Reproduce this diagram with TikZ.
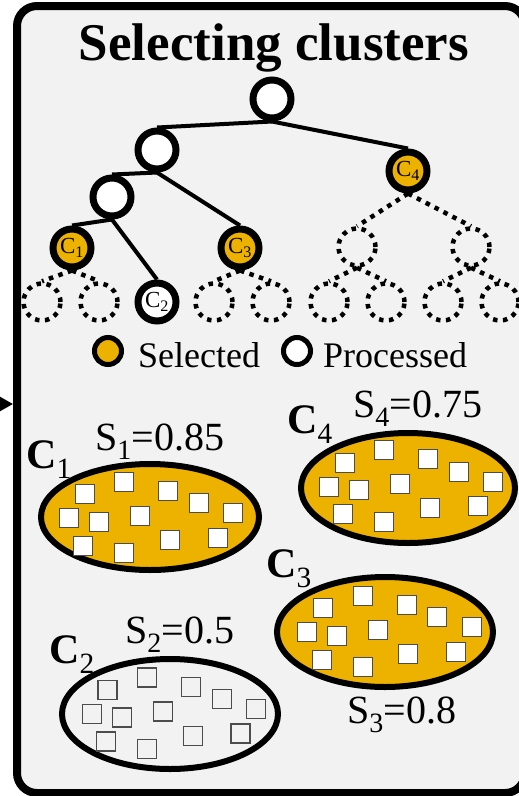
\documentclass[tikz,border=0pt]{standalone}
\usepackage{fontspec}
\setmainfont{Liberation Serif}
\usetikzlibrary{arrows.meta,shapes.geometric}
\definecolor{selc}{HTML}{EDB100}
\definecolor{bgc}{HTML}{F2F2F2}
\tikzset{
  treenode/.style={circle, draw=black, line width=7pt, minimum size=38pt, inner sep=0pt, font=\fontsize{23}{23}\selectfont},
  selnode/.style={treenode, fill=selc},
  procnode/.style={treenode, fill=white},
  dotnode/.style={circle, draw=black, line width=4.5pt, dash pattern=on 4.5pt off 5.5pt, minimum size=37pt, inner sep=0pt},
  treeedge/.style={line width=4pt},
  dotedge/.style={line width=4.5pt, dash pattern=on 4.5pt off 5.5pt},
  legsel/.style={circle, draw=black, line width=5pt, minimum size=27pt, inner sep=0pt, fill=selc},
  legproc/.style={circle, draw=black, line width=5pt, minimum size=27pt, inner sep=0pt, fill=white},
  legtext/.style={anchor=base west, inner sep=0pt, font=\fontsize{36}{36}\selectfont},
  clus/.style={ellipse, draw=black, line width=6pt, inner sep=0pt},
  sqsel/.style={rectangle, draw=black!70, line width=1.2pt, fill=white, minimum size=19pt, inner sep=0pt},
  sqnone/.style={rectangle, draw=black!70, line width=1.2pt, minimum size=19pt, inner sep=0pt},
  clabel/.style={anchor=base west, inner sep=0pt, font=\fontsize{42}{42}\selectfont},
  slabel/.style={anchor=base west, inner sep=0pt, font=\fontsize{40}{40}\selectfont},
}
\newcommand{\sqpattern}[2]{%
  \foreach \dx/\dy [count=\i] in {-65.3/-22.7,-25.7/-35.3,18.3/-26,49/-13.7,83.3/-3.7,-81/1.3,-51/4.7,-10/-1.3,-66.7/28.7,-25.7/36.3,20/23,67.7/20.7}
    \node[#2] (#1-\i) at (\dx,\dy) {};}
\begin{document}
\begin{tikzpicture}[x=1pt,y=-1pt]
\useasboundingbox (0,0) rectangle (519,796);
% frame
\draw[line width=8pt, fill=bgc, rounded corners=20pt] (17,6) rectangle (525,793);
\coordinate (arrstart) at (-30,404);
\coordinate (arrend) at (13,404);
\draw[line width=3pt, -{Triangle[length=15pt,width=16pt]}] (arrstart) -- (arrend);
% title
\node[anchor=base, inner sep=0pt, font=\fontsize{53}{53}\selectfont\bfseries] (title) at (274,60) {Selecting clusters};
% tree
\node[procnode] (root) at (272,99) {};
\node[procnode] (l1) at (157,150) {};
\node[selnode] (c4) at (408,171) {C\textsubscript{4}};
\node[procnode] (l2) at (112,197) {};
\node[selnode] (c1) at (72,248) {C\textsubscript{1}};
\node[selnode] (c3) at (240,248) {C\textsubscript{3}};
\node[procnode] (c2) at (157,302) {C\textsubscript{2}};
\node[dotnode] (d1) at (357,247) {};
\node[dotnode] (d2) at (471,247) {};
\node[dotnode] (b1) at (42,302) {};
\node[dotnode] (b2) at (99,302) {};
\node[dotnode] (b4) at (214,302) {};
\node[dotnode] (b5) at (271,302) {};
\node[dotnode] (b6) at (329,302) {};
\node[dotnode] (b7) at (386,302) {};
\node[dotnode] (b8) at (443,302) {};
\node[dotnode] (b9) at (500,302) {};
\draw[treeedge] (root.south) -- (l1.north);
\draw[treeedge] (root.south) -- (c4.north);
\draw[treeedge] (l1.south) -- (l2.north);
\draw[treeedge] (l1.south) -- (c3.north);
\draw[treeedge] (l2.south) -- (c1.north);
\draw[treeedge] (l2.south) -- (c2.north);
\draw[dotedge] (c4.south) -- (d1.north);
\draw[dotedge] (c4.south) -- (d2.north);
\draw[dotedge] (c1.south) -- (b1.north);
\draw[dotedge] (c1.south) -- (b2.north);
\draw[dotedge] (c3.south) -- (b4.north);
\draw[dotedge] (c3.south) -- (b5.north);
\draw[dotedge] (d1.south) -- (b6.north);
\draw[dotedge] (d1.south) -- (b7.north);
\draw[dotedge] (d2.south) -- (b8.north);
\draw[dotedge] (d2.south) -- (b9.north);
% legend
\node[legsel] (legs) at (108,351) {};
\node[legtext] (legst) at (138,367) {Selected};
\node[legproc] (legp) at (297,351) {};
\node[legtext] (legpt) at (323,367) {Processed};
% clusters
\node[clus, fill=selc, minimum width=218pt, minimum height=106pt] (e1) at (150,517) {};
\node[clus, fill=selc, minimum width=214pt, minimum height=110pt] (e4) at (408,488) {};
\node[clus, fill=selc, minimum width=216pt, minimum height=110pt] (e3) at (385,632) {};
\node[clus, fill=bgc, minimum width=216pt, minimum height=110pt] (e2) at (170,714) {};
\begin{scope}[shift={(150,517)}]\sqpattern{s1}{sqsel}\end{scope}
\begin{scope}[shift={(410,485.3)}]\sqpattern{s4}{sqsel}\end{scope}
\begin{scope}[shift={(388.3,631)}]\sqpattern{s3}{sqsel}\end{scope}
\begin{scope}[shift={(172.8,712.7)}]\sqpattern{s2}{sqnone}\end{scope}
% labels
\node[clabel] (lc1) at (26,468) {\textbf{C}\textsubscript{1}};
\node[slabel] (ls1) at (95,450) {S\textsubscript{1}=0.85};
\node[clabel] (lc4) at (287,433) {\textbf{C}\textsubscript{4}};
\node[slabel] (ls4) at (353,417) {S\textsubscript{4}=0.75};
\node[clabel] (lc3) at (266,577) {\textbf{C}\textsubscript{3}};
\node[slabel] (ls3) at (347,723) {S\textsubscript{3}=0.8};
\node[clabel] (lc2) at (49,663) {\textbf{C}\textsubscript{2}};
\node[slabel] (ls2) at (125,643) {S\textsubscript{2}=0.5};
\end{tikzpicture}
\end{document}
